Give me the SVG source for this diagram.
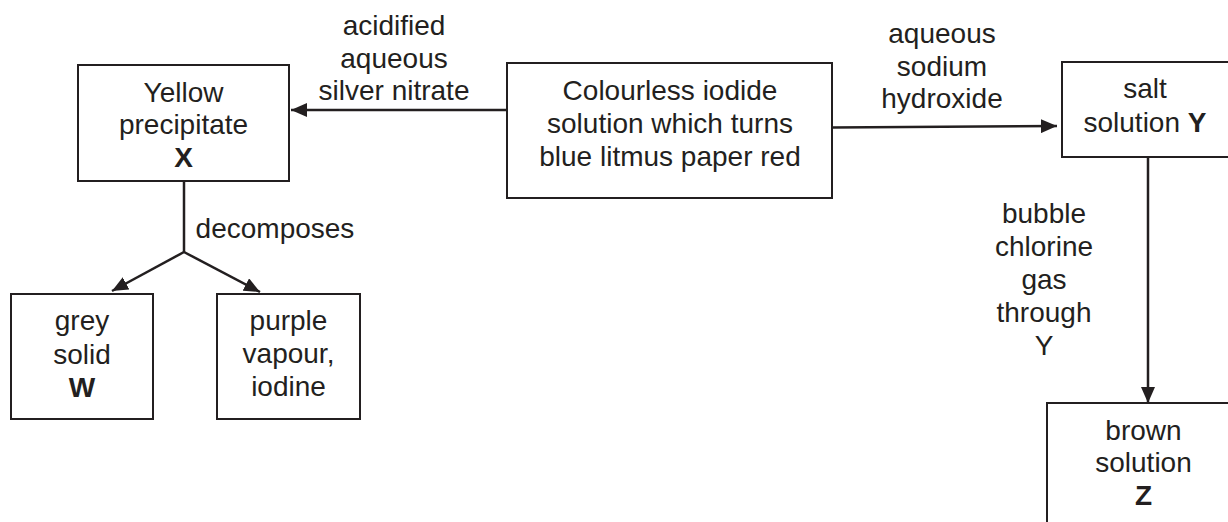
<svg xmlns="http://www.w3.org/2000/svg" width="1228" height="522" viewBox="0 0 1228 522">
<style>
.box{fill:none;stroke:#231f20;stroke-width:2}
.ln{fill:none;stroke:#231f20;stroke-width:2.5}
text{font-family:"Liberation Sans",Arial,sans-serif;font-size:28px;fill:#231f20;text-anchor:middle}
.b{font-weight:bold}
</style>
<defs>
<marker id="ah" viewBox="0 0 16 14" refX="16" refY="7" markerWidth="16" markerHeight="14" markerUnits="userSpaceOnUse" orient="auto">
<path d="M0,0 L16,7 L0,14 Z" fill="#231f20"/>
</marker>
</defs>
<rect width="1228" height="522" fill="#fff"/>
<g id="connectors">
<line class="ln" x1="507" y1="110" x2="291" y2="110" marker-end="url(#ah)"/>
<line class="ln" x1="832" y1="127.5" x2="1057" y2="126" marker-end="url(#ah)"/>
<line class="ln" x1="1148" y1="157" x2="1148" y2="403" marker-end="url(#ah)"/>
<polyline class="ln" points="184,182 184,252"/>
<line class="ln" x1="184" y1="252" x2="112" y2="291" marker-end="url(#ah)"/>
<line class="ln" x1="184" y1="252" x2="260" y2="292" marker-end="url(#ah)"/>
<g id="label-silver">
<text x="394" y="35">acidified</text>
<text x="394" y="68">aqueous</text>
<text x="394" y="100">silver nitrate</text>
</g>
<g id="label-naoh">
<text x="942" y="43">aqueous</text>
<text x="942" y="76">sodium</text>
<text x="942" y="108">hydroxide</text>
</g>
<g id="label-chlorine">
<text x="1044" y="223">bubble</text>
<text x="1044" y="256">chlorine</text>
<text x="1044" y="289">gas</text>
<text x="1044" y="322">through</text>
<text x="1044" y="355">Y</text>
</g>
<text x="275" y="238">decomposes</text>
</g>
<g id="node-iodide">
<rect class="box" x="507" y="63" width="325" height="135"/>
<text x="670" y="100">Colourless iodide</text>
<text x="670" y="133">solution which turns</text>
<text x="670" y="166">blue litmus paper red</text>
</g>
<g id="node-X">
<rect class="box" x="78" y="65" width="211" height="116"/>
<text x="183.5" y="102">Yellow</text>
<text x="183.5" y="134">precipitate</text>
<text x="183.5" y="167" class="b">X</text>
</g>
<g id="node-Y">
<rect class="box" x="1062" y="62" width="180" height="95"/>
<text x="1145" y="98">salt</text>
<text x="1145" y="132">solution <tspan class="b">Y</tspan></text>
</g>
<g id="node-Z">
<rect class="box" x="1047" y="403" width="193" height="130"/>
<text x="1143.5" y="440">brown</text>
<text x="1143.5" y="472">solution</text>
<text x="1143.5" y="505" class="b">Z</text>
</g>
<g id="node-W">
<rect class="box" x="11" y="294" width="142" height="125"/>
<text x="82" y="330">grey</text>
<text x="82" y="364">solid</text>
<text x="82" y="397" class="b">W</text>
</g>
<g id="node-iodine">
<rect class="box" x="217" y="294" width="143" height="125"/>
<text x="288.5" y="330">purple</text>
<text x="288.5" y="363">vapour,</text>
<text x="288.5" y="396">iodine</text>
</g>
</svg>
